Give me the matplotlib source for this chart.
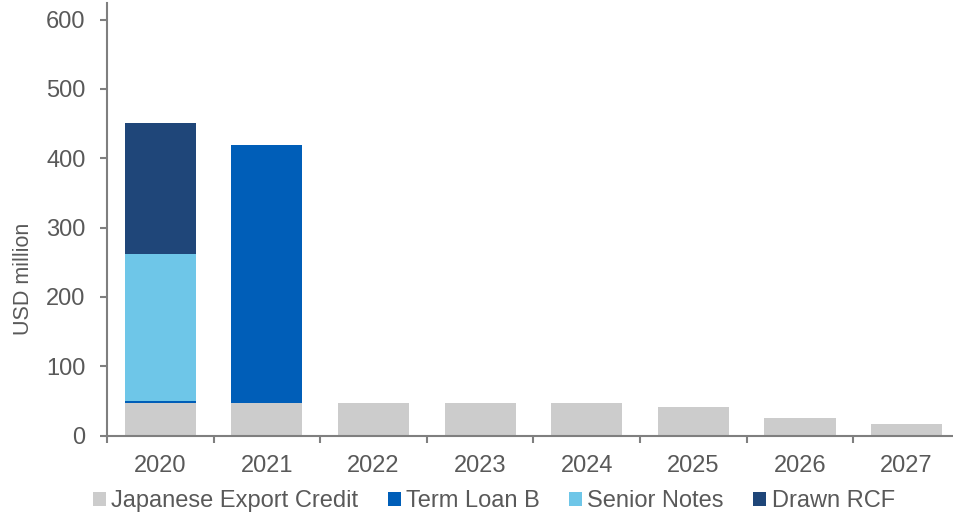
import numpy as np
import matplotlib.pyplot as plt

plt.rcParams["font.family"] = ["Liberation Sans", "DejaVu Sans"]

years = ["2020", "2021", "2022", "2023", "2024", "2025", "2026", "2027"]
japanese_export_credit = [47, 47, 47, 47, 47, 41, 26, 17]
term_loan_b = [2.5, 372, 0, 0, 0, 0, 0, 0]
senior_notes = [212, 0, 0, 0, 0, 0, 0, 0]
drawn_rcf = [189, 0, 0, 0, 0, 0, 0, 0]

series = [
    ("Japanese Export Credit", japanese_export_credit, "#cccccc"),
    ("Term Loan B", term_loan_b, "#005eb8"),
    ("Senior Notes", senior_notes, "#6ec6e8"),
    ("Drawn RCF", drawn_rcf, "#1f4679"),
]

text_color = "#595959"
axis_color = "#7f7f7f"

fig = plt.figure(figsize=(9.54, 5.13), dpi=100)
ax = fig.add_axes([0.1122, 0.1509, 0.894, 0.8433])

x = np.arange(len(years))
bottom = np.zeros(len(years))
for name, vals, col in series:
    vals = np.array(vals, dtype=float)
    ax.bar(x, vals, width=0.666, bottom=bottom, color=col, label=name)
    bottom += vals

ax.set_xlim(-0.5, len(years) - 0.5)
ax.set_ylim(0, 624)
ax.set_yticks(np.arange(0, 601, 100))
ax.set_xticks(x)
ax.set_xticklabels(years)
ax.set_xticks(np.arange(-0.5, len(years), 1), minor=True)

for s in ["top", "right"]:
    ax.spines[s].set_visible(False)
for s in ["left", "bottom"]:
    ax.spines[s].set_color(axis_color)
    ax.spines[s].set_linewidth(1.5)

ax.tick_params(axis="x", which="major", length=0, pad=14, labelsize=17, labelcolor=text_color)
ax.tick_params(axis="x", which="minor", length=5, width=1.5, color=axis_color)
ax.tick_params(axis="y", length=5, width=1.5, color=axis_color, labelsize=17,
               labelcolor=text_color, pad=10.5)

fig.text(23.5 / 954, 1 - 279 / 513, "USD million", rotation=90, ha="center", va="center",
         fontsize=15.5, color=text_color)

ax.legend(loc="center left", bbox_to_anchor=(93 / 954, 1 - 501 / 513),
          bbox_transform=fig.transFigure, ncol=4, frameon=False,
          fontsize=17, labelcolor=text_color, handlelength=0.55, handleheight=0.55,
          handletextpad=0.22, columnspacing=1.25, borderpad=0, borderaxespad=0)

fig.savefig("out.png", dpi=100)
